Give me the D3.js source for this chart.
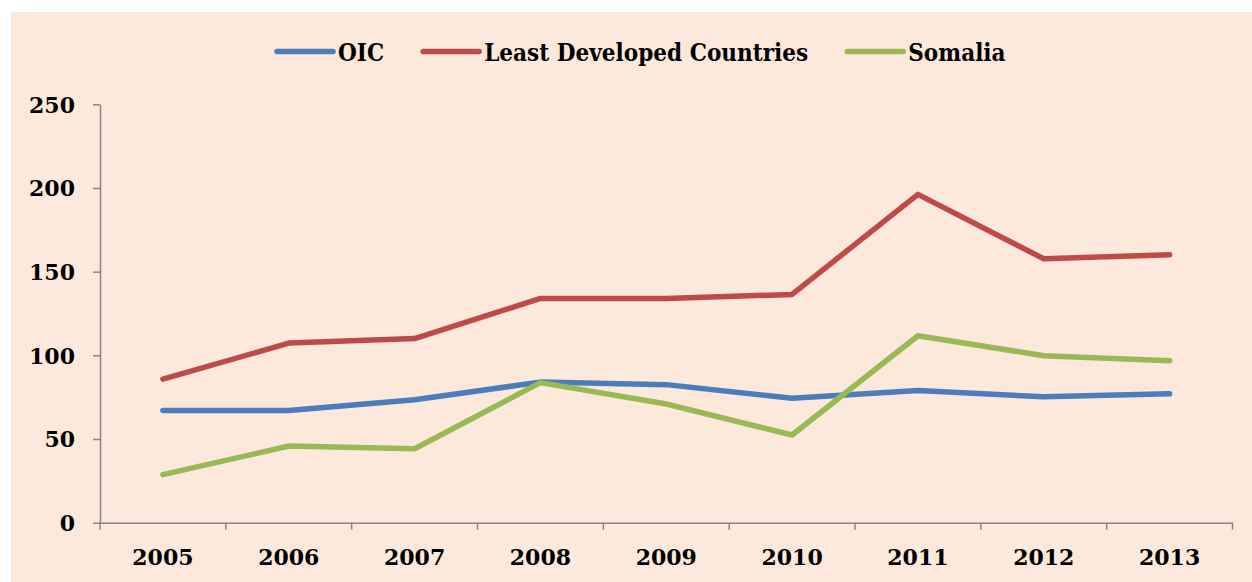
<!DOCTYPE html>
<html>
<head>
<meta charset="utf-8">
<script src="https://cdn.jsdelivr.net/npm/d3@7"></script>
<style>
  body { margin: 0; background: #fff; }
  svg { display: block; }
</style>
</head>
<body>
<script>
// data
var years = ["2005", "2006", "2007", "2008", "2009", "2010", "2011", "2012", "2013"];
var oic = [67, 67, 73.5, 84, 82.5, 74.3, 79, 75.2, 77];
var ldc = [85.8, 107.3, 110, 134, 134, 136.4, 196.2, 157.7, 160.1];
var somalia = [28.7, 45.8, 44.2, 83.7, 70.9, 52.4, 111.7, 99.8, 96.8];
var seriesNames = ["OIC", "Least Developed Countries", "Somalia"];
var yTicks = [0, 50, 100, 150, 200, 250];

var colors = ["#4a7ebb", "#be4b48", "#98b954"];

var w = 1252, h = 582;
var plotLeft = 100, plotRight = 1232.5, plotTop = 104.3, plotBottom = 522.7;

var svg = d3.select("body").append("svg")
  .attr("width", w)
  .attr("height", h);

// peach background
svg.append("rect")
  .attr("x", 11).attr("y", 12)
  .attr("width", w - 11).attr("height", h - 12)
  .attr("fill", "#fde9db");

var x = d3.scaleBand().domain(years).range([plotLeft, plotRight]).padding(0);
var y = d3.scaleLinear().domain([0, 250]).range([plotBottom, plotTop]);

var font = "'DejaVu Serif', serif";

// y axis
var yAxis = svg.append("g")
  .attr("transform", "translate(" + plotLeft + ",0)")
  .call(d3.axisLeft(y).tickValues(yTicks).tickSize(7).tickPadding(18).tickSizeOuter(0));
yAxis.select(".domain").attr("stroke", "#868686").attr("stroke-width", 1.5);
yAxis.selectAll(".tick line").attr("stroke", "#868686").attr("stroke-width", 1.5);
yAxis.selectAll("text")
  .attr("font-family", font).attr("font-weight", "bold").attr("font-size", "22px")
  .attr("fill", "#000").attr("dy", "0.36em");

// x axis (labels at centre, ticks on boundaries)
var xAxis = svg.append("g")
  .attr("transform", "translate(0," + plotBottom + ")")
  .call(d3.axisBottom(x).tickSize(0).tickSizeOuter(0));
xAxis.select(".domain").attr("stroke", "#868686").attr("stroke-width", 1.5);
xAxis.selectAll("text")
  .attr("font-family", font).attr("font-weight", "bold").attr("font-size", "22px")
  .attr("fill", "#000").attr("y", 42).attr("dy", "0");

var bounds = years.map(function(d) { return x(d); }).concat([x.range()[1]]);
xAxis.selectAll(".bound")
  .data(bounds)
  .enter().append("line")
  .attr("class", "bound")
  .attr("x1", function(d) { return d; })
  .attr("x2", function(d) { return d; })
  .attr("y1", 0).attr("y2", 7)
  .attr("stroke", "#868686").attr("stroke-width", 1.5);

// lines
var allSeries = [oic, ldc, somalia];
var line = d3.line()
  .x(function(d, i) { return x(years[i]) + x.bandwidth() / 2; })
  .y(function(d) { return y(d); });

svg.selectAll(".series")
  .data(allSeries)
  .enter().append("path")
  .attr("class", "series")
  .attr("d", line)
  .attr("fill", "none")
  .attr("stroke", function(d, i) { return colors[i]; })
  .attr("stroke-width", 5.5)
  .attr("stroke-linecap", "round")
  .attr("stroke-linejoin", "round");

// legend (bold serif, slightly squeezed with a transform)
var lx = 277, ly = 51.5;
var squeeze = 0.865;
seriesNames.forEach(function(name, i) {
  svg.append("line")
    .attr("x1", lx).attr("x2", lx + 56)
    .attr("y1", ly).attr("y2", ly)
    .attr("stroke", colors[i]).attr("stroke-width", 5.5)
    .attr("stroke-linecap", "round");
  var g = svg.append("g")
    .attr("transform", "translate(" + (lx + 61) + "," + ly + ") scale(" + squeeze + ",1)");
  var t = g.append("text")
    .attr("dy", "0.36em")
    .attr("font-family", font).attr("font-weight", "bold").attr("font-size", "25px")
    .attr("fill", "#000")
    .text(name);
  var tw = t.node().getComputedTextLength() * squeeze;
  lx += 61 + tw + 39;
});
</script>
</body>
</html>
